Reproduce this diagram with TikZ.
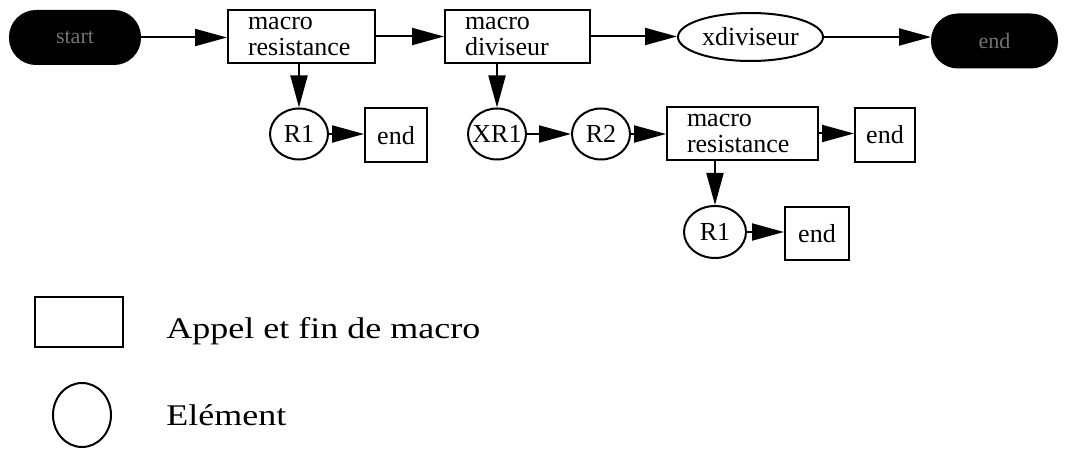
\documentclass[tikz,border=0pt]{standalone}
\usepackage{fontspec}
\setmainfont{Liberation Serif}
\newfontfamily\legendfont[FakeStretch=1.2]{Liberation Serif}
\usetikzlibrary{arrows.meta,shapes.geometric}

\begin{document}
\begin{tikzpicture}[x=1pt,y=-1pt,line width=2pt,
  every node/.style={font=\fontsize{26}{26}\selectfont,line width=2pt},
  pill/.style={draw,fill=black,rectangle,rounded corners=26pt,
    minimum width=#1,minimum height=53pt,inner sep=0pt,
    text=black!55,font=\fontsize{22}{22}\selectfont},
  macrobox/.style={draw,rectangle,inner xsep=20pt,inner ysep=0pt,
    align=left,minimum height=53pt},
  endbox/.style={draw,rectangle,inner sep=0pt,minimum width=62pt,minimum height=54pt},
  elem/.style={draw,ellipse,inner sep=0pt,minimum width=58pt,minimum height=51pt},
  oval/.style={draw,ellipse,inner sep=0pt,minimum width=145pt,minimum height=48pt},
  arr/.style={-{Triangle[length=32pt,width=17pt]}},
  legendtext/.style={anchor=base west,font=\legendfont\fontsize{30}{30}\selectfont}]

\useasboundingbox (0,0) rectangle (1068,449);

% main chain
\node[pill=130pt] (start) at (75,37.5) {start};
\node[macrobox,text width=107pt] (mr1) at (301.5,36.5) {macro\\resistance};
\node[macrobox,text width=105pt] (md) at (517.5,36.5) {macro\\diviseur};
\node[oval] (xdiv) at (750.5,37) {xdiviseur};
\node[pill=125pt] (endp) at (994.5,41) {end};

\draw[arr] (start.east) -- (start.east -| mr1.west);
\draw[arr] (mr1.east) -- (md.west);
\draw[arr] (md.east) -- (md.east -| xdiv.west);
\draw[arr] (xdiv.east) -- (xdiv.east -| endp.west);

% resistance macro expansion
\node[elem] (r1a) at (299,134) {\makebox[0pt]{R1}};
\node[endbox] (enda) at (396,135.5) {end};
\draw[arr] (mr1.south -| r1a.north) -- (r1a.north);
\draw[arr] (r1a.east) -- (r1a.east -| enda.west);

% divider macro expansion
\node[elem] (xr1) at (497,134) {\makebox[0pt]{XR1}};
\node[elem] (r2) at (601,134) {\makebox[0pt]{R2}};
\node[macrobox,text width=111pt] (mr2) at (742.5,133.5) {macro\\resistance};
\node[endbox,minimum width=60pt] (endb) at (885,135) {end};
\draw[arr] (md.south -| xr1.north) -- (xr1.north);
\draw[arr] (xr1.east) -- (r2.west);
\draw[arr] (r2.east) -- (r2.east -| mr2.west);
\draw[arr] (mr2.east) -- (mr2.east -| endb.west);

% nested resistance macro
\node[elem,minimum width=62pt,minimum height=52pt] (r1b) at (715,232) {\makebox[0pt]{R1}};
\node[endbox,minimum width=64pt,minimum height=53pt] (endc) at (817,233.5) {end};
\draw[arr] (mr2.south -| r1b.north) -- (r1b.north);
\draw[arr] (r1b.east) -- (r1b.east -| endc.west);

% legend
\node[draw,rectangle,minimum width=88pt,minimum height=50pt,inner sep=0pt] (legbox) at (79,322) {};
\node[legendtext] (legboxtxt) at (162,338) {Appel et fin de macro};
\node[draw,ellipse,minimum width=58pt,minimum height=64pt,inner sep=0pt] (legcirc) at (82,415) {};
\node[legendtext] (legcirctxt) at (162,425) {Elément};
\end{tikzpicture}
\end{document}
